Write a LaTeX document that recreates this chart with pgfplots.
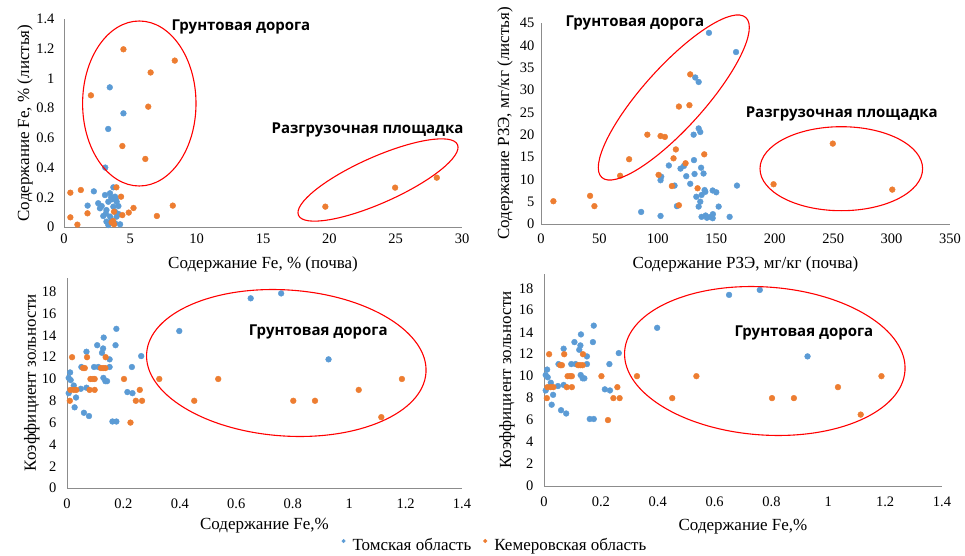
\documentclass[border=0pt]{standalone}
\usepackage{pgfplots}
\pgfplotsset{compat=1.18}
\usepackage{pgfplotstable}
\usepackage{fontspec}
\setmainfont{Liberation Serif}
\newfontfamily\annfont{Open Sans}

\definecolor{tomsk}{HTML}{5B9BD5}
\definecolor{kemer}{HTML}{ED7D31}
\definecolor{axgray}{HTML}{8C8C8C}

% --- Fe soil vs Fe leaves ---
\pgfplotstableread{
x y
3.45 0.94
4.48 0.765
3.33 0.66
3.11 0.40
2.25 0.24
1.78 0.144
3.72 0.267
3.09 0.215
3.47 0.227
3.85 0.204
2.58 0.16
2.71 0.126
2.84 0.141
3.34 0.17
3.60 0.186
3.97 0.17
4.10 0.141
3.72 0.137
3.20 0.114
3.85 0.103
2.96 0.074
3.47 0.07
3.97 0.07
3.20 0.036
3.60 0.047
3.34 0.013
4.23 0.018
3.85 0.025
4.10 0.088
3.55 0.20
3.90 0.19
3.15 0.09
}\feTom
\pgfplotstableread{
x y
4.48 1.196
8.35 1.12
6.53 1.04
2.03 0.886
6.35 0.81
4.40 0.545
6.13 0.458
0.48 0.231
1.27 0.249
1.77 0.092
0.48 0.065
1.01 0.016
3.95 0.267
4.30 0.204
3.77 0.103
4.40 0.08
4.88 0.097
5.24 0.128
7.00 0.074
8.20 0.144
3.59 0.031
3.77 0.018
3.70 0.04
19.7 0.137
24.96 0.265
28.1 0.332
}\feKem

% --- REE soil vs REE leaves ---
\pgfplotstableread{
x y
143.7 42.8
166.9 38.5
132.0 32.8
134.9 31.8
134.9 21.4
136.3 20.6
130.6 20.0
130.9 14.3
109.4 13.1
119.4 12.4
122.3 13.0
124.3 10.7
127.7 9.0
131.4 11.2
139.1 11.3
137.0 12.6
102.9 10.6
102.3 9.8
114.3 8.6
167.7 8.6
132.9 6.1
136.3 5.0
137.4 6.5
140.0 7.6
140.6 7.2
146.9 7.5
150.0 7.1
152.0 3.9
134.9 3.9
116.3 4.0
85.7 2.7
102.3 1.8
137.4 1.6
142.0 1.4
144.9 1.6
147.1 2.2
146.9 1.3
161.4 1.6
140.9 1.9
}\reeTom
\pgfplotstableread{
x y
10.6 5.1
42.0 6.3
45.7 4.0
67.7 10.8
75.4 14.5
91.0 20.0
102.3 19.7
106.0 19.5
100.6 11.0
112.0 8.5
113.4 14.7
115.4 16.7
118.0 26.3
118.0 4.2
123.7 13.6
127.0 26.6
127.7 33.5
134.0 8.0
139.7 15.6
199.0 8.9
249.7 18.0
300.6 7.7
}\reeKem

% --- Fe vs ash coefficient ---
\pgfplotstableread{
x y
0.759 17.85
0.651 17.4
0.398 14.4
0.927 11.8
0.175 14.6
0.172 13.1
0.107 13.1
0.130 13.8
0.069 12.5
0.128 12.8
0.124 12.4
0.263 12.1
0.151 11.8
0.051 11.1
0.096 11.1
0.111 11.1
0.151 11.1
0.230 11.1
0.011 10.6
0.006 10.1
0.013 9.9
0.129 10.1
0.136 9.8
0.142 9.8
0.024 9.4
0.049 9.1
0.069 9.2
0.006 8.7
0.032 8.3
0.214 8.8
0.232 8.7
0.027 7.4
0.060 6.9
0.078 6.6
0.161 6.1
0.175 6.1
}\ashTom
\pgfplotstableread{
x y
0.018 12
0.010 8
0.012 9
0.024 9
0.033 9
0.057 11
0.063 11
0.071 12
0.080 9
0.098 9
0.083 10
0.092 10
0.098 10
0.120 11
0.128 11
0.136 11
0.137 12
0.202 10
0.225 6
0.258 9
0.244 8
0.266 8
0.327 10
0.451 8
0.536 10
0.802 8
0.879 8
1.034 9
1.114 6.5
1.187 10
}\ashKem

\pgfplotsset{
  panel/.style={
    scale only axis, anchor=south west,
    axis x line*=bottom, axis y line*=left,
    axis line style={draw=axgray, line width=0.9pt, -},
    major tick length=0pt,
    tick label style={font=\fontsize{14.5}{16}\selectfont},
    /pgf/number format/assume math mode=true,
    label style={font=\fontsize{17}{20}\selectfont},
    clip=false,
  },
  tom/.style={only marks, mark=*, mark size=2.9pt, color=tomsk},
  kem/.style={only marks, mark=*, mark size=2.9pt, color=kemer},
}

\begin{document}
\begin{tikzpicture}
\path[use as bounding box] (0pt,0pt) rectangle (965pt,555pt);

% top left
\begin{axis}[panel, at={(64pt,328pt)}, width=398pt, height=208pt,
    xmin=0, xmax=30, ymin=0, ymax=1.4,
    xtick={0,5,...,30}, ytick={0,0.2,0.4,0.6,0.8,1,1.2,1.4},
    xticklabel style={yshift=-3pt}, yticklabel style={xshift=-6pt},
    xlabel={Содержание Fe, \% (почва)},
    ylabel={Содержание Fe, \% (листья)},
    xlabel style={at={(axis description cs:0.5,-0.178)}, anchor=center},
    ylabel style={at={(axis description cs:-0.098,0.5)}, anchor=center},
]
\addplot[tom] table {\feTom};
\addplot[kem] table {\feKem};
\end{axis}

% top right
\begin{axis}[panel, at={(541pt,331pt)}, width=409pt, height=201pt,
    xmin=0, xmax=350, ymin=0, ymax=45,
    xtick={0,50,...,350}, ytick={0,5,...,45},
    xticklabel style={yshift=-6pt}, yticklabel style={xshift=-3pt},
    xlabel={Содержание РЗЭ, мг/кг (почва)},
    ylabel={Содержание РЗЭ, мг/кг (листья)},
    xlabel style={at={(axis description cs:0.5,-0.199)}, anchor=center},
    ylabel style={at={(axis description cs:-0.088,0.5)}, anchor=center},
]
\addplot[tom] table {\reeTom};
\addplot[kem] table {\reeKem};
\end{axis}

% bottom left
\begin{axis}[panel, at={(67pt,67pt)}, width=395pt, height=210.4pt,
    xmin=0, xmax=1.4, ymin=0, ymax=19.3,
    xtick={0,0.2,0.4,0.6,0.8,1,1.2,1.4}, ytick={0,2,...,18},
    xticklabel style={yshift=-7pt}, yticklabel style={xshift=-7pt},
    xlabel={Содержание Fe,\%},
    ylabel={Коэффициент зольности},
    xlabel style={at={(axis description cs:0.5,-0.18)}, anchor=center},
    ylabel style={at={(axis description cs:-0.089,0.5)}, anchor=center},
    legend columns=2,
    legend style={at={(axis description cs:1.0835,-0.271)}, anchor=center,
      draw=none, fill=none, font=\fontsize{17}{20}\selectfont,
      /tikz/every even column/.append style={column sep=10pt}},
]
\addplot[tom, legend image code/.code={\fill[tomsk] (0pt,4pt) circle (1.8pt); \path[draw=none,fill=none] (-2pt,0pt) rectangle (7pt,1pt);}] table {\ashTom};
\addplot[kem, legend image code/.code={\fill[kemer] (0pt,4pt) circle (1.8pt); \path[draw=none,fill=none] (-2pt,0pt) rectangle (7pt,1pt);}] table {\ashKem};
\legend{Томская область, Кемеровская область}
\end{axis}

% bottom right
\begin{axis}[panel, at={(544pt,69pt)}, width=398pt, height=212pt,
    xmin=0, xmax=1.4, ymin=0, ymax=19.3,
    xtick={0,0.2,0.4,0.6,0.8,1,1.2,1.4}, ytick={0,2,...,18},
    xticklabel style={yshift=-7pt}, yticklabel style={xshift=-7pt},
    xlabel={Содержание Fe,\%},
    ylabel={Коэффициент зольности},
    xlabel style={at={(axis description cs:0.5,-0.19)}, anchor=center},
    ylabel style={at={(axis description cs:-0.093,0.5)}, anchor=center},
]
\addplot[tom] table {\ashTom};
\addplot[kem] table {\ashKem};
\end{axis}

% ellipses
\begin{scope}[draw=red, line width=1.1pt]
\draw (139.3pt,451.5pt) ellipse [x radius=56.7pt, y radius=82.5pt];
\draw[shift={(378pt,375pt)}, rotate=24] (0,0) ellipse [x radius=87pt, y radius=23pt];
\draw[shift={(673.8pt,457.5pt)}, rotate=48] (0,0) ellipse [x radius=107.6pt, y radius=30.6pt];
\draw (841.3pt,386.3pt) ellipse [x radius=81.3pt, y radius=42pt];
\draw[shift={(286.3pt,192pt)}, rotate=-4] (0,0) ellipse [x radius=140pt, y radius=73pt];
\draw[shift={(764.8pt,194pt)}, rotate=-4] (0,0) ellipse [x radius=140.5pt, y radius=74pt];
\end{scope}

% annotations
\begin{scope}[every node/.style={font=\annfont\bfseries\fontsize{15}{18}\selectfont, inner sep=0pt}]
\node at (241pt,528.3pt) {Грунтовая дорога};
\node at (367.5pt,425pt) {Разгрузочная площадка};
\node at (635pt,532.5pt) {Грунтовая дорога};
\node at (841.7pt,441pt) {Разгрузочная площадка};
\node at (318.3pt,223.3pt) {Грунтовая дорога};
\node at (804pt,222.5pt) {Грунтовая дорога};
\end{scope}
\end{tikzpicture}
\end{document}
